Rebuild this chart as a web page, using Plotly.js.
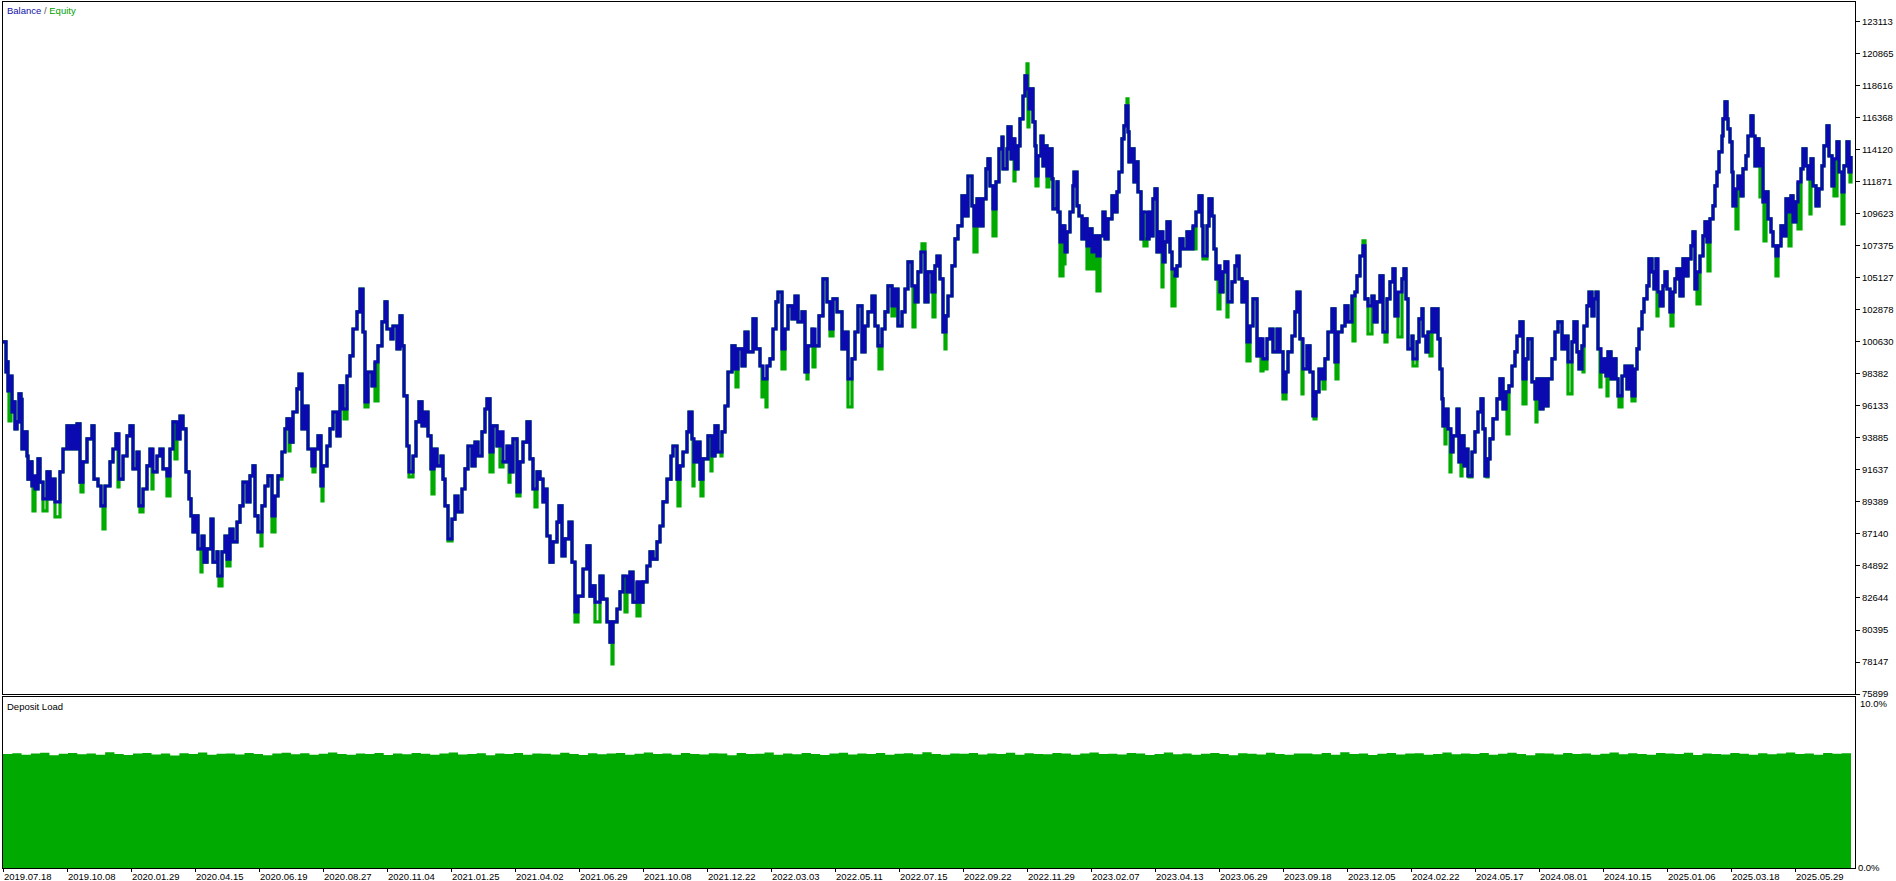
<!DOCTYPE html>
<html>
<head>
<meta charset="utf-8">
<script src="https://cdn.plot.ly/plotly-3.0.1.min.js"></script>
<style>
html,body{margin:0;padding:0;background:#fff;}
#chart{width:1896px;height:881px;}
</style>
</head>
<body>
<div id="chart"></div>
<script>
// ---- Balance curve: deal number and balance after that deal ----
const balanceDeal = [
3,6,7,8,11,12,14,15,17,19,21,22,24,27,28,30,32,33,35,38,40,43,47,50,53,55,60,63,67,70,73,75,77,80,83,87,92,94,98,101,105,110,113,116,119,123,127,130,133,137,139,143,147,150,153,157,160,163,167,170,173,177,180,183,186,189,191,193,196,198,202,204,207,211,213,217,218,222,225,227,230,233,237,240,243,247,250,253,255,258,262,265,268,272,275,278,282,285,287,290,293,297,299,302,305,308,312,315,318,321,323,327,330,333,337,340,343,347,350,353,357,360,363,365,368,372,375,378,382,385,387,391,393,397,400,402,404,407,409,413,416,419,422,425,428,431,434,437,441,443,445,448,452,455,458,462,465,468,
472,475,478,482,485,487,490,493,497,500,503,507,510,513,517,520,523,527,530,533,537,540,543,546,547,550,553,557,559,562,565,569,572,575,578,583,587,590,593,595,600,603,607,610,613,617,620,623,627,630,633,637,640,643,647,650,653,657,660,663,667,671,673,677,680,683,687,689,692,694,697,700,703,708,712,715,718,722,725,728,732,735,738,742,745,748,753,756,760,763,767,770,773,776,778,782,785,788,792,795,798,802,805,808,812,815,819,823,827,830,833,837,842,845,848,852,855,858,862,865,868,872,875,878,882,885,888,892,895,898,902,905,908,912,915,918,921,925,928,
932,935,937,940,943,946,948,952,955,958,962,965,968,972,974,977,980,983,986,988,990,993,996,999,1002,1003,1007,1008,1011,1013,1015,1018,1020,1023,1025,1027,1029,1031,1033,1035,1036,1038,1041,1043,1045,1047,1049,1052,1053,1057,1058,1060,1063,1065,1067,1070,1073,1074,1077,1079,1082,1084,1087,1089,1092,1095,1097,1100,1103,1105,1108,1112,1114,1117,1119,1122,1124,1126,1128,1129,1132,1134,1137,1138,1141,1143,1147,1149,1152,1153,1155,1157,1160,1163,1165,1167,1170,1172,1175,1177,1180,1183,1187,1190,1193,1196,1199,1202,1203,1207,1209,1212,1214,1216,1218,1220,1223,1225,1228,1232,1235,1237,1239,1242,1244,1247,1250,1253,1257,1260,1263,1267,1270,1273,1277,1280,1283,1286,1288,1292,1295,1297,1300,1303,1307,1310,1313,1316,1319,1322,1325,1328,1332,1335,1338,1342,1345,1348,1352,1355,1357,1360,1363,1365,1368,1372,1374,1377,1380,1383,1387,1390,1393,1395,1398,1402,1404,1406,1408,
1412,1413,1417,1419,1422,1423,1426,1428,1432,1434,1437,1438,1440,1442,1443,1446,1448,1451,1453,1457,1459,1462,1464,1466,1468,1472,1475,1478,1481,1483,1485,1488,1490,1493,1497,1500,1503,1506,1509,1512,1515,1517,1520,1523,1526,1528,1532,1535,1537,1540,1543,1546,1548,1552,1555,1558,1562,1565,1568,1572,1574,1577,1579,1582,1584,1587,1589,1592,1594,1596,1598,1601,1603,1606,1608,1611,1613,1616,1618,1622,1625,1627,1630,1632,1635,1637,1639,1642,1644,1647,1649,1652,1654,1656,1658,1660,1663,1665,1667,1670,1673,1675,1677,1680,1683,1686,1688,1691,1693,1695,1697,1700,1703,1705,1707,1710,1713,1715,1717,1719,1722,1723,1725,1727,1728,1730,1732,1733,1736,1738,1741,1743,1746,1748,1751,1753,1755,1757,1759,1762,1763,1766,1768,1771,1773,1776,1778,1781,1783,1786,1788,1791,1793,1796,1798,1801,1803,1806,1808,1811,1813,1816,1819,1822,1824,1827,1829,1832,1834,1837,1839,1842,1844,1847,1849,1851
];
const balanceValue = [
100630,98520,99230,97190,98240,95710,96420,94520,95010,96980,96600,93110,94310,92620,91000,92200,90510,91220,90300,92410,90790,89600,91500,89600,91000,89390,91500,93110,94730,93110,94730,93110,94870,90790,92200,93820,94730,91000,90510,89110,90510,92200,93110,94170,91000,92620,94030,94730,91710,92900,89110,90300,91920,93110,91500,92620,93110,91710,91220,93110,95010,93820,95430,94520,91500,89600,88410,87280,88410,86090,87000,85170,86090,88190,85170,85880,84190,85880,87000,85380,87490,86580,87980,89110,90790,89390,91220,91920,88410,87280,89110,90510,91220,88410,89810,91220,92900,94520,95220,93600,95710,97330,98380,94520,96130,93110,91920,93110,94030,90510,91920,93320,94520,95710,94030,97540,95920,98240,99650,101540,102740,104350,101330,96420,98520,97540,99230,100350,102040,103440,101540,100840,101750,100140,102460,100350,96840,93320,91500,92620,95010,96420,94730,95710,94030,91710,93110,91920,92620,91000,89110,86790,88190,89810,88690,90300,91710,93320,
91920,93600,92620,94310,95920,96630,92900,94730,93320,94310,92200,93320,91500,93820,90090,92200,93600,95010,92410,90300,91500,91000,89390,90300,87000,85170,86580,87980,89110,85600,86790,87980,85170,81660,82780,84680,86300,82780,83490,82360,84190,82570,80960,79550,80960,81870,83070,84190,83070,84470,82360,83770,82360,83770,84890,85880,85380,86580,87700,89390,91000,92620,93320,91000,91920,92900,94310,95710,93820,92200,93600,91000,92410,94030,92620,94730,92900,94310,96130,98520,100350,98730,100140,98940,101330,99930,102250,100140,98940,98030,98940,99440,101540,103440,104140,100140,101540,103160,102250,103860,102040,102740,98520,100350,101540,100350,102460,105060,103440,101540,103650,102740,100140,101330,98030,99440,101330,103160,99930,101750,102740,103860,101750,100350,101540,102740,104570,103160,104350,101750,102740,104350,106250,104570,103440,105550,106950,103440,105550,
104140,105970,106670,105060,101330,102460,103860,105970,107870,108780,110890,109480,112290,110190,108780,110680,108780,110680,112790,113490,111590,109980,111870,114190,115030,112790,114190,115740,113490,114890,112790,114400,116300,117910,119320,118410,117000,118410,116090,114400,112290,113700,115100,113000,114400,112290,114190,112080,109980,111870,109760,107660,108780,106950,108360,109760,111590,112570,110190,109480,107870,109270,107380,108570,106950,108080,106670,108080,109760,107870,109270,110890,109760,111170,112570,114890,115810,117210,115390,113280,114190,111870,113280,111170,107870,109760,107870,109760,108080,110680,111380,106950,108360,106250,107660,109060,106950,105760,105270,105970,107870,107160,108360,107160,108780,109760,110890,108780,106670,108780,110680,109480,107160,105060,105970,104140,105550,106250,103440,104850,105970,106670,105060,103440,104850,100630,101750,103650,99650,100840,99440,100840,101540,99930,101540,99930,97120,98520,99930,101050,102740,104140,100840,98730,100350,98520,95430,97120,98730,98030,99440,101330,102950,99230,101330,101750,103160,102040,103860,104140,105270,106670,107380,103650,103160,103860,102040,103440,105270,101330,103650,104850,105760,102460,104140,105060,105760,103650,100140,
101050,99440,100630,102250,102950,101050,99930,101330,102950,101330,102950,100840,98730,96630,94730,95920,94520,92900,94030,95920,92200,94030,91920,93110,91220,92900,94310,95710,96630,94520,91220,92410,93820,95220,96630,98030,95920,97120,97540,98940,99930,101050,102040,98030,99440,100840,97820,96630,98030,95920,98030,96130,98030,99440,101330,102040,100140,101050,99230,100630,102040,99930,98730,100350,101750,103160,104140,102460,103650,104140,100140,98520,99440,98240,99930,98030,99440,98030,96840,98240,98940,97330,98940,96840,98730,100140,101540,102740,103650,104570,106460,105550,104350,106460,104140,103160,104570,105550,104350,102740,104140,105060,105760,103860,106460,105270,106460,107380,108360,104350,105550,106670,108080,109060,107660,109270,110190,111590,112570,113980,115100,116300,117490,116300,115600,114680,112570,110190,111380,112290,110890,112790,113700,115100,116510,115100,113000,114890,113000,114190,110470,111170,109270,108360,107380,106670,107380,108780,108080,110680,109760,110890,109060,110470,111870,112790,114190,113000,112080,113490,111590,110190,111380,113000,114400,115810,113700,111590,113490,114680,112570,111170,113000,114680,112570,113700
];

// ---- Equity: floating extremes read where the green curve leaves the balance ----
const equityDeal = [
9,33,43,55,81,103,118,140,152,167,175,201,219,227,261,272,279,289,313,322,344,365,375,409,432,448,
490,500,509,517,535,575,595,612,625,637,678,693,701,711,721,736,762,766,782,807,813,830,848,879,892,913,922,
933,945,974,993,1014,1027,1028,1036,1047,1060,1064,1087,1092,1097,1127,1144,1162,1172,1193,1203,1218,1227,1247,1261,1266,1283,1302,1314,1323,1336,1353,1363,1368,1385,
1398,1413,1430,1445,1450,1461,1469,1487,1507,1523,1536,1568,1583,1600,1607,1619,1632,1657,1671,1697,1708,1736,1760,1764,1776,1789,1798,1810,1834,1842,1850
];
const equityValue = [
95080,88760,88760,88340,90090,87490,90440,88690,90300,89810,92410,84470,83490,84890,86300,87280,91000,92970,91500,89460,95220,96060,96490,91150,89950,86650,
91500,91850,90790,89810,89040,80960,80960,78010,81660,81380,89110,90510,89810,91570,92620,97470,96770,96060,98730,98030,98870,101050,96060,98730,102460,101680,107520,
102390,100140,106950,108080,111940,120160,115740,111590,111520,105270,106110,105760,105760,104210,117700,107380,104500,103160,107160,106460,102950,102390,99300,98590,98730,96630,96980,95220,97330,98030,100700,107730,101190,100630,
100980,98940,99650,93460,91500,91220,91150,91150,94170,96270,95010,96980,98520,97470,96840,96060,96490,102460,101750,103300,105620,108570,110820,107730,105270,107380,108570,109620,110890,108920,111870
];

// ---- Deposit load (%) ----
const depositLoad = [
6.66,6.71,6.62,6.69,6.74,6.60,6.68,6.72,6.65,6.70,6.63,6.77,6.67,6.61,6.70,6.73,6.64,6.69,6.58,6.71,
6.66,6.75,6.62,6.68,6.70,6.64,6.72,6.67,6.60,6.69,6.74,6.65,6.71,6.63,6.68,6.76,6.66,6.62,6.70,6.67,
6.73,6.61,6.69,6.65,6.72,6.68,6.63,6.70,6.75,6.64,6.67,6.71,6.60,6.69,6.66,6.73,6.62,6.70,6.68,6.64,
6.74,6.67,6.61,6.71,6.65,6.69,6.72,6.63,6.68,6.76,6.66,6.70,6.62,6.73,6.67,6.64,6.71,6.69,6.60,6.72,
6.66,6.68,6.75,6.63,6.70,6.65,6.72,6.67,6.61,6.69,6.74,6.64,6.70,6.66,6.73,6.62,6.68,6.71,6.65,6.77,
6.67,6.63,6.70,6.68,6.72,6.64,6.69,6.66,6.74,6.62,6.71,6.67,6.65,6.73,6.69,6.63,6.70,6.76,6.66,6.68,
6.64,6.72,6.69,6.61,6.67,6.75,6.65,6.70,6.63,6.68,6.73,6.66,6.60,6.71,6.68,6.64,6.74,6.67,6.62,6.70,
6.69,6.65,6.72,6.63,6.77,6.66,6.70,6.61,6.68,6.73,6.64,6.69,6.71,6.62,6.67,6.75,6.65,6.70,6.66,6.72,
6.63,6.68,6.74,6.67,6.60,6.71,6.69,6.64,6.73,6.66,6.70,6.62,6.68,6.76,6.65,6.71,6.67,6.63,6.72,6.69,
6.66,6.74,6.61,6.70,6.67,6.64,6.73,6.68,6.62,6.71,6.65,6.69,6.75,6.66,6.70,6.63,6.72,6.68,6.71,6.74
];

// ---- Axis labels ----
const yTicks = [75899,78147,80395,82644,84892,87140,89389,91637,93885,96133,98382,100630,102878,105127,107375,109623,111871,114120,116368,118616,120865,123113];
const dateLabels = ['2019.07.18','2019.10.08','2020.01.29','2020.04.15','2020.06.19','2020.08.27','2020.11.04','2021.01.25','2021.04.02','2021.06.29','2021.10.08','2021.12.22','2022.03.03','2022.05.11','2022.07.15','2022.09.22','2022.11.29','2023.02.07','2023.04.13','2023.06.29','2023.09.18','2023.12.05','2024.02.22','2024.05.17','2024.08.01','2024.10.15','2025.01.06','2025.03.18','2025.05.29'];

// deals per date label step
const FIRST_DEAL = 3, LAST_DEAL = 1855, LABEL_STEP = 64;
const dateTickVals = dateLabels.map((_, i) => FIRST_DEAL + i * LABEL_STEP);

// merge equity extremes into the balance path
const eqPts = balanceDeal.map((d, i) => [d, balanceValue[i], 0]);
equityDeal.forEach((d, i) => eqPts.push([d, equityValue[i], 1]));
eqPts.sort((a, b) => a[0] - b[0] || a[2] - b[2]);

const lastBal = balanceDeal[balanceDeal.length - 1];
const depX = depositLoad.map((_, i) => FIRST_DEAL + i * (lastBal - FIRST_DEAL) / (depositLoad.length - 1));

const BLUE = '#0a0ab0', GREEN = '#00aa00';

const traces = [
  {x: depX, y: depositLoad, xaxis: 'x2', yaxis: 'y2', type: 'scatter', mode: 'lines',
   line: {shape: 'hv', width: 0, color: GREEN}, fill: 'tozeroy', fillcolor: GREEN, hoverinfo: 'skip'},
  {x: eqPts.map(p => p[0]), y: eqPts.map(p => p[1]), xaxis: 'x', yaxis: 'y', type: 'scatter', mode: 'lines',
   line: {shape: 'hv', width: 3.2, color: GREEN}, hoverinfo: 'skip'},
  {x: balanceDeal, y: balanceValue, xaxis: 'x', yaxis: 'y', type: 'scatter', mode: 'lines',
   line: {shape: 'hv', width: 3.2, color: BLUE}, hoverinfo: 'skip'}
];

const FONT = 'Liberation Sans, Arial, sans-serif';
const PX_TOP = 2, PX_BOT = 868, MAIN_BOT = 694, DEP_TOP = 697;
const H = PX_BOT - PX_TOP;

const layout = {
  width: 1896, height: 881,
  margin: {l: 3, r: 41, t: PX_TOP, b: 881 - PX_BOT, pad: 0},
  paper_bgcolor: '#ffffff', plot_bgcolor: '#ffffff',
  showlegend: false, hovermode: false,
  font: {family: FONT, size: 9.5, color: '#000'},
  xaxis: {domain: [0, 1], range: [FIRST_DEAL, LAST_DEAL], anchor: 'y', showgrid: false, zeroline: false,
          showticklabels: false, ticks: '', showline: true, mirror: true, linecolor: '#000', linewidth: 1},
  yaxis: {domain: [(PX_BOT - MAIN_BOT) / H, 1], range: [yTicks[0], yTicks[0] + (MAIN_BOT - PX_TOP) / 32 * (yTicks[1] - yTicks[0])],
          anchor: 'x', side: 'right', tickvals: yTicks, ticktext: yTicks.map(String),
          ticks: 'outside', ticklen: 4, tickwidth: 1, tickcolor: '#000',
          showgrid: false, zeroline: false, showline: true, mirror: true, linecolor: '#000', linewidth: 1,
          tickfont: {family: FONT, size: 9.5, color: '#000'}},
  xaxis2: {domain: [0, 1], range: [FIRST_DEAL, LAST_DEAL], anchor: 'y2', showgrid: false, zeroline: false,
           tickvals: dateTickVals, ticktext: dateLabels, ticks: 'outside', ticklen: 3, tickcolor: '#000',
           ticklabelposition: 'outside right', showline: true, mirror: true, linecolor: '#000', linewidth: 1,
           tickfont: {family: FONT, size: 9.5, color: '#000'}},
  yaxis2: {domain: [0, (PX_BOT - DEP_TOP) / H], range: [0, 10], anchor: 'x2', side: 'right',
           tickvals: [0], ticktext: ['0.0%'], ticks: '', showgrid: false, zeroline: false,
           showline: true, mirror: true, linecolor: '#000', linewidth: 1,
           tickfont: {family: FONT, size: 9.5, color: '#000'}},
  annotations: [
    {xref: 'paper', yref: 'paper', x: 0, y: 1, xanchor: 'left', yanchor: 'top', xshift: 2, yshift: -1,
     showarrow: false, font: {family: FONT, size: 9.5},
     text: '<span style="color:#1010a8">Balance</span><span style="color:#505050"> / </span><span style="color:#00a000">Equity</span>'},
    {xref: 'paper', yref: 'paper', x: 0, y: (PX_BOT - DEP_TOP) / H, xanchor: 'left', yanchor: 'top', xshift: 2, yshift: -2,
     showarrow: false, font: {family: FONT, size: 9.5, color: '#000'}, text: 'Deposit Load'},
    {xref: 'paper', yref: 'y2', x: 1, y: 10, xanchor: 'left', yanchor: 'top', xshift: 3, yshift: 1,
     showarrow: false, font: {family: FONT, size: 9.5, color: '#000'}, text: '10.0%'}
  ]
};

Plotly.newPlot('chart', traces, layout, {displayModeBar: false, staticPlot: true});
</script>
</body>
</html>
